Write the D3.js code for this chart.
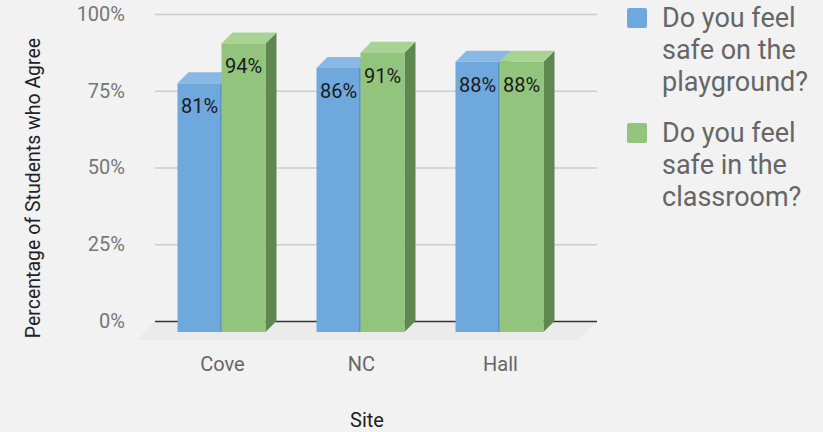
<!DOCTYPE html>
<html>
<head>
<meta charset="utf-8">
<script src="https://cdn.jsdelivr.net/npm/d3@7"></script>
<style>
  body { margin: 0; background: #f2f2f2; }
  svg { display: block; font-family: Roboto, "Noto Sans", sans-serif; }
</style>
</head>
<body>
<div id="chart-area"></div>
<script>
// data
var sites = ["Cove", "NC", "Hall"];
var seriesNames = ["Do you feel safe on the playground?", "Do you feel safe in the classroom?"];
var playground = [0.81, 0.86, 0.88];
var classroom = [0.94, 0.91, 0.88];
var yTicks = [0, 0.25, 0.5, 0.75, 1];
var legendLines = [["Do you feel", "safe on the", "playground?"],
                   ["Do you feel", "safe in the", "classroom?"]];
var colors = [
    {front: "#6fa8dc", top: "#8ab8e4", side: "#4d7eaa"},
    {front: "#93c47d", top: "#a9d295", side: "#5f8850"}
];

var width = 823, height = 432;
var depth = 11;
var formatP = d3.format(".0%");

var svg = d3.select("#chart-area")
    .append("svg")
    .attr("width", width)
    .attr("height", height);

svg.append("rect")
    .attr("width", width)
    .attr("height", height)
    .attr("fill", "#f2f2f2");

// back plane scale
var y = d3.scaleLinear().domain([0, 1]).range([321, 14]);
var gridLeft = 155, gridRight = 597;

// front face positions
var x = d3.scaleBand().domain(sites).range([152, 569]).padding(0);
var xs = d3.scaleBand().domain([0, 1]).range([-44, 44]);

// floor
svg.append("path")
    .attr("d", "M" + gridLeft + "," + y(0) + "L" + gridRight + "," + y(0) +
        "L" + (gridRight - 18) + "," + (y(0) + 19) + "L" + (gridLeft - 18) + "," + (y(0) + 19) + "Z")
    .attr("fill", "#ebebeb");

var yAxisCall = d3.axisLeft(y)
    .tickValues(yTicks)
    .tickFormat(formatP)
    .tickSizeInner(-(gridRight - gridLeft))
    .tickSizeOuter(0)
    .tickPadding(30);

var yAxis = svg.append("g")
    .attr("transform", "translate(" + gridLeft + ",0)")
    .call(yAxisCall);
yAxis.select(".domain").remove();
yAxis.selectAll("line")
    .attr("stroke", function(d){ return d === 0 ? "#333" : "#cccccc"; })
    .attr("stroke-width", function(d){ return d === 0 ? 1.6 : 1.3; });
yAxis.selectAll("text")
    .attr("fill", "#777")
    .attr("font-size", "20px")
    .attr("font-family", "Roboto, sans-serif");

// bars
var barData = [];
sites.forEach(function(s, i){
    [playground[i], classroom[i]].forEach(function(v, k){
        barData.push({site: s, series: k, value: v});
    });
});

var bars = svg.selectAll(".bar")
    .data(barData)
    .enter()
    .append("g")
    .attr("class", "bar");

bars.each(function(d){
    var g = d3.select(this);
    var x0 = x(d.site) + x.bandwidth() / 2 + xs(d.series);
    var x1 = x0 + xs.bandwidth();
    var yt = y(d.value) + depth;
    var yb = y(0) + depth;
    var c = colors[d.series];
    // side
    g.append("path")
        .attr("d", "M" + x1 + "," + yt + "L" + (x1 + depth) + "," + (yt - depth) +
            "L" + (x1 + depth) + "," + (yb - depth) + "L" + x1 + "," + yb + "Z")
        .attr("fill", c.side);
    // top
    g.append("path")
        .attr("d", "M" + x0 + "," + yt + "L" + (x0 + depth) + "," + (yt - depth) +
            "L" + (x1 + depth) + "," + (yt - depth) + "L" + x1 + "," + yt + "Z")
        .attr("fill", c.top);
    // front
    g.append("rect")
        .attr("x", x0)
        .attr("y", yt)
        .attr("width", x1 - x0)
        .attr("height", yb - yt)
        .attr("fill", c.front);
    if (d.series === 0) {
        g.append("line")
            .attr("x1", x1 - 0.5).attr("x2", x1 - 0.5)
            .attr("y1", yt).attr("y2", yb)
            .attr("stroke", c.side)
            .attr("stroke-width", 1);
    }
});

bars.append("text")
    .attr("x", function(d){ return x(d.site) + x.bandwidth() / 2 + xs(d.series) + xs.bandwidth() / 2; })
    .attr("y", function(d){ return y(d.value) + depth + 30; })
    .attr("text-anchor", "middle")
    .attr("font-size", "20px")
    .attr("fill", "#1a1a1a")
    .text(function(d){ return formatP(d.value); });

// category labels
svg.selectAll(".cat")
    .data(sites)
    .enter()
    .append("text")
    .attr("class", "cat")
    .attr("x", function(d){ return x(d) + x.bandwidth() / 2 + 1; })
    .attr("y", 371)
    .attr("text-anchor", "middle")
    .attr("font-size", "20px")
    .attr("fill", "#666")
    .text(function(d){ return d; });

svg.append("text")
    .attr("x", 367)
    .attr("y", 427)
    .attr("text-anchor", "middle")
    .attr("font-size", "20px")
    .attr("fill", "#222")
    .text("Site");

svg.append("text")
    .attr("transform", "rotate(-90)")
    .attr("x", -188)
    .attr("y", 40)
    .attr("text-anchor", "middle")
    .attr("font-size", "19.5px")
    .attr("fill", "#222")
    .text("Percentage of Students who Agree");

// legend
var legend = svg.selectAll(".legend")
    .data(seriesNames)
    .enter()
    .append("g")
    .attr("class", "legend")
    .attr("transform", function(d, i){ return "translate(627," + (8 + i * 115) + ")"; });

legend.append("rect")
    .attr("width", 20)
    .attr("height", 20)
    .attr("rx", 2)
    .attr("fill", function(d, i){ return colors[i].front; });

legend.append("text")
    .attr("font-size", "27px")
    .attr("fill", "#666")
    .selectAll("tspan")
    .data(function(d, i){ return legendLines[i]; })
    .enter()
    .append("tspan")
    .attr("x", 35)
    .attr("y", function(d, j){ return 19 + j * 32; })
    .text(function(d){ return d; });
</script>
</body>
</html>
